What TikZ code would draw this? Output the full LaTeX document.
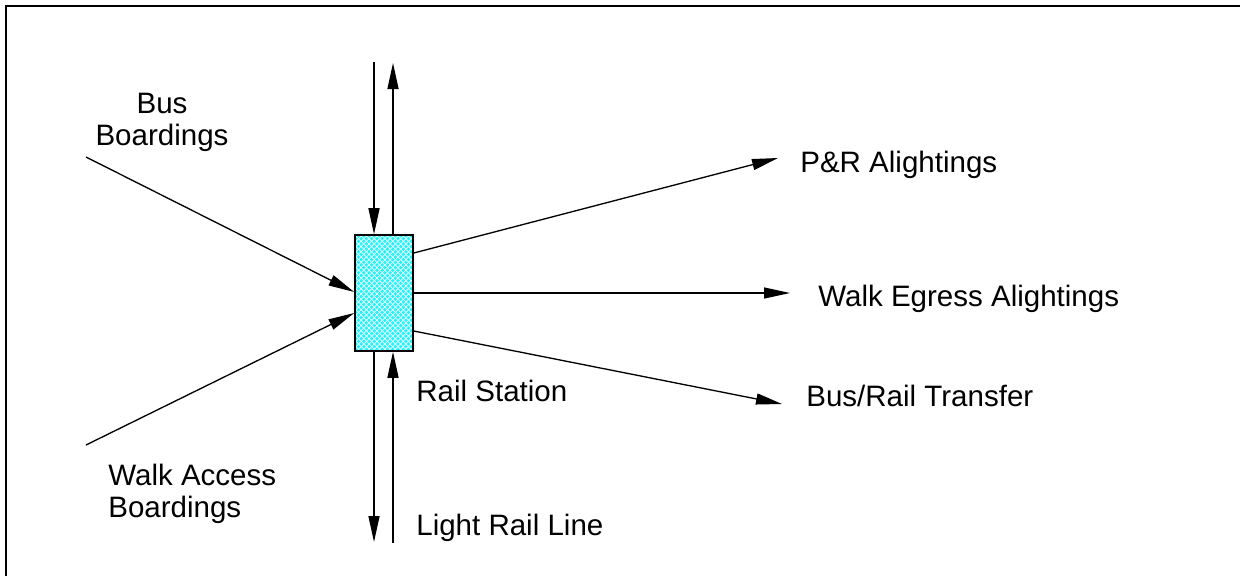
\documentclass[tikz,border=0pt]{standalone}
\usepackage{fontspec}
\setmainfont{Liberation Sans}
\usetikzlibrary{arrows.meta,patterns,calc}
\definecolor{stcyan}{RGB}{40,240,250}

\begin{document}
\begin{tikzpicture}[x=0.02cm,y=-0.02cm,
    flow/.style={line width=0.75pt,-{Triangle[length=0.52cm,width=0.22cm]}},
    lbl/.style={inner sep=0pt,font=\fontsize{16.8}{18.2}\selectfont},
    station/.style={draw,line width=0.9pt,minimum width=1.16cm,minimum height=2.32cm,
      inner sep=0pt,preaction={fill=stcyan},pattern=crosshatch,pattern color=white!92!cyan}]
  \useasboundingbox (0,0) rectangle (1240,576);

  % frame
  \draw[line width=1.2pt] (1240,6) -- (6,6) -- (6,576);

  % rail station
  \node[station] (st) at (384,293) {};

  % free ends of the connectors
  \coordinate (railInN)  at (374,62);
  \coordinate (railOutN) at (393,63);
  \coordinate (railOutS) at (374,542);
  \coordinate (railInS)  at (393,543);
  \coordinate (bus)  at (86,157);
  \coordinate (walk) at (86,445);
  \coordinate (pr)   at (778,158);
  \coordinate (egr)  at (790,293);
  \coordinate (xfer) at (782,404);

  % light rail line through the station
  \draw[flow]  (railInN) -- (railInN |- st.north);
  \draw[flow]  (railOutN |- st.north) -- (railOutN);
  \draw[flow]  (railOutS |- st.south) -- (railOutS);
  \draw[flow]  (railInS) -- (railInS |- st.south);

  % boardings
  \draw[flow] (bus) -- ($(st.west)+(0,-1)$);
  \draw[flow] (walk) -- ($(st.west)+(0,20)$);

  % alightings
  \draw[flow] ($(st.east)+(0,-40)$) -- (pr);
  \draw[flow] (st.east) -- (egr);
  \draw[flow] ($(st.east)+(0,38)$) -- (xfer);

  % labels (base anchor of a two-line label sits on its last line)
  \node[lbl,align=center,anchor=base] (lbus) at (162,145) {Bus\\Boardings};
  \node[lbl,align=left,anchor=base west] (lwalk) at (108,517) {Walk Access\\Boardings};
  \node[lbl,anchor=base west] (lpr) at (800,172) {P\&R Alightings};
  \node[lbl,anchor=base west] (legr) at (818,306) {Walk Egress Alightings};
  \node[lbl,anchor=base west] (lxfer) at (806,406) {Bus/Rail Transfer};
  \node[lbl,anchor=base west] (lst) at (416,401) {Rail Station};
  \node[lbl,anchor=base west] (lline) at (416,535) {Light Rail Line};
\end{tikzpicture}
\end{document}
